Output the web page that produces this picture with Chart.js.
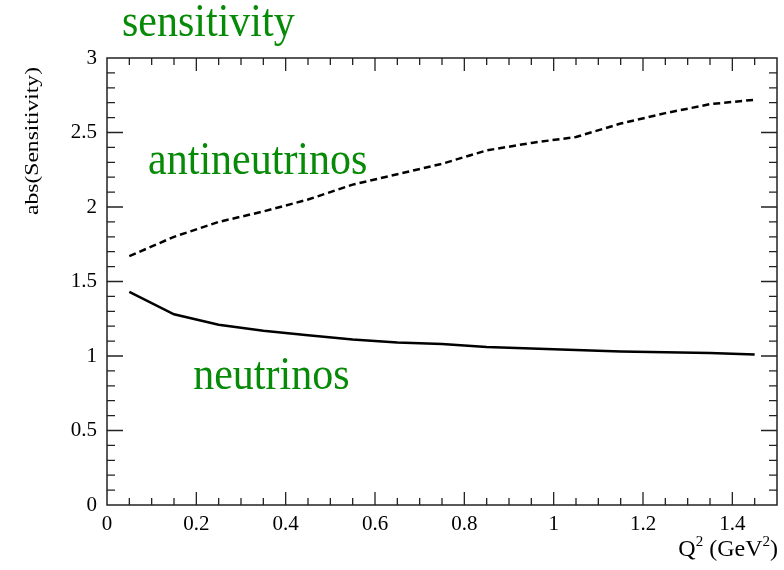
<!DOCTYPE html>
<html>
<head>
<meta charset="utf-8">
<script src="https://cdn.jsdelivr.net/npm/chart.js@4"></script>
<style>
  html, body { margin: 0; padding: 0; background: #fff; }
  canvas { display: block; }
</style>
</head>
<body>
<canvas id="sensChart" width="784" height="570"></canvas>
<script>
// Q^2 points (GeV^2)
const q2 = [0.05, 0.15, 0.25, 0.35, 0.45, 0.55, 0.65, 0.75, 0.85, 0.95, 1.05, 1.15, 1.25, 1.35, 1.45];
const neutrinos = [1.43, 1.28, 1.21, 1.17, 1.14, 1.11, 1.09, 1.08, 1.06, 1.05, 1.04, 1.03, 1.025, 1.02, 1.01];
const antineutrinos = [1.67, 1.80, 1.90, 1.97, 2.05, 2.15, 2.22, 2.29, 2.38, 2.43, 2.47, 2.56, 2.63, 2.69, 2.72];

const xTicks = [0, 0.2, 0.4, 0.6, 0.8, 1, 1.2, 1.4];
const yTicks = [0, 0.5, 1, 1.5, 2, 2.5, 3];

const serif = '"Liberation Serif", "Times New Roman", serif';
const green = '#078a07';

// ROOT style frame with inner ticks + labels
const rootFrame = {
  id: 'rootFrame',
  afterDraw(chart) {
    const { ctx, chartArea: a, scales: { x, y } } = chart;
    ctx.save();
    ctx.strokeStyle = '#222';
    ctx.lineWidth = 1.5;
    ctx.strokeRect(a.left, a.top, a.right - a.left, a.bottom - a.top);

    ctx.lineWidth = 1.3;
    ctx.beginPath();
    for (let i = 1; i < 30; i++) {
      const px = x.getPixelForValue(i * 0.05);
      const len = i % 4 === 0 ? 13 : 7;
      ctx.moveTo(px, a.bottom); ctx.lineTo(px, a.bottom - len);
      ctx.moveTo(px, a.top); ctx.lineTo(px, a.top + len);
    }
    for (let i = 1; i < 30; i++) {
      const py = y.getPixelForValue(i * 0.1);
      const len = i % 5 === 0 ? 16 : 8;
      ctx.moveTo(a.left, py); ctx.lineTo(a.left + len, py);
      ctx.moveTo(a.right, py); ctx.lineTo(a.right - len, py);
    }
    ctx.stroke();

    // green annotations
    ctx.fillStyle = green;
    ctx.textBaseline = 'alphabetic';
    ctx.textAlign = 'left';
    const big = (str, px, py) => {
      ctx.save();
      ctx.translate(px, py);
      ctx.scale(1, 1.1);
      ctx.font = '42px ' + serif;
      ctx.fillText(str, 0, 0);
      ctx.restore();
    };
    big('sensitivity', 122, 36);
    big('antineutrinos', x.getPixelForValue(0.092), y.getPixelForValue(2.22));
    big('neutrinos', x.getPixelForValue(0.193), y.getPixelForValue(0.778));

    // y axis title, rotated, anchored at the top
    ctx.fillStyle = '#000';
    ctx.save();
    ctx.font = '19px ' + serif;
    const yt = 'abs(Sensitivity)';
    const w = ctx.measureText(yt).width;
    ctx.translate(38, 67);
    ctx.rotate(-Math.PI / 2);
    ctx.scale(148 / w, 1);
    ctx.textAlign = 'right';
    ctx.fillText(yt, 0, 0);
    ctx.restore();

    // x axis title with superscripts, right aligned
    const parts = [['Q', 24, 0], ['2', 15, -10], [' (GeV', 24, 0], ['2', 15, -10], [')', 24, 0]];
    let total = 0;
    parts.forEach(p => { ctx.font = p[1] + 'px ' + serif; total += ctx.measureText(p[0]).width; });
    let cx = a.right + 1 - total;
    parts.forEach(p => {
      ctx.font = p[1] + 'px ' + serif;
      ctx.fillText(p[0], cx, 556 + p[2]);
      cx += ctx.measureText(p[0]).width;
    });
    ctx.restore();
  }
};

new Chart(document.getElementById('sensChart'), {
  type: 'line',
  data: {
    datasets: [
      {
        label: 'neutrinos',
        data: q2.map((v, i) => ({ x: v, y: neutrinos[i] })),
        borderColor: '#000',
        borderWidth: 2.5,
        pointRadius: 0,
        tension: 0
      },
      {
        label: 'antineutrinos',
        data: q2.map((v, i) => ({ x: v, y: antineutrinos[i] })),
        borderColor: '#000',
        borderWidth: 2.5,
        borderDash: [7, 4],
        pointRadius: 0,
        tension: 0
      }
    ]
  },
  options: {
    responsive: false,
    animation: false,
    layout: { padding: { top: 58, right: 7, left: 0, bottom: 0 } },
    plugins: {
      legend: { display: false },
      tooltip: { enabled: false }
    },
    scales: {
      x: {
        type: 'linear',
        min: 0,
        max: 1.5,
        afterFit: s => { s.height = 65; },
        afterBuildTicks: s => { s.ticks = xTicks.map(v => ({ value: v })); },
        grid: { display: false, drawTicks: false },
        border: { display: false },
        ticks: {
          padding: 7,
          color: '#000',
          font: { family: serif, size: 21 },
          callback: v => String(+v.toFixed(2))
        }
      },
      y: {
        min: 0,
        max: 3,
        afterFit: s => { s.width = 107; },
        afterBuildTicks: s => { s.ticks = yTicks.map(v => ({ value: v })); },
        grid: { display: false, drawTicks: false },
        border: { display: false },
        ticks: {
          padding: 10,
          color: '#000',
          font: { family: serif, size: 21 },
          callback: v => String(+v.toFixed(2))
        }
      }
    }
  },
  plugins: [rootFrame]
});
</script>
</body>
</html>
